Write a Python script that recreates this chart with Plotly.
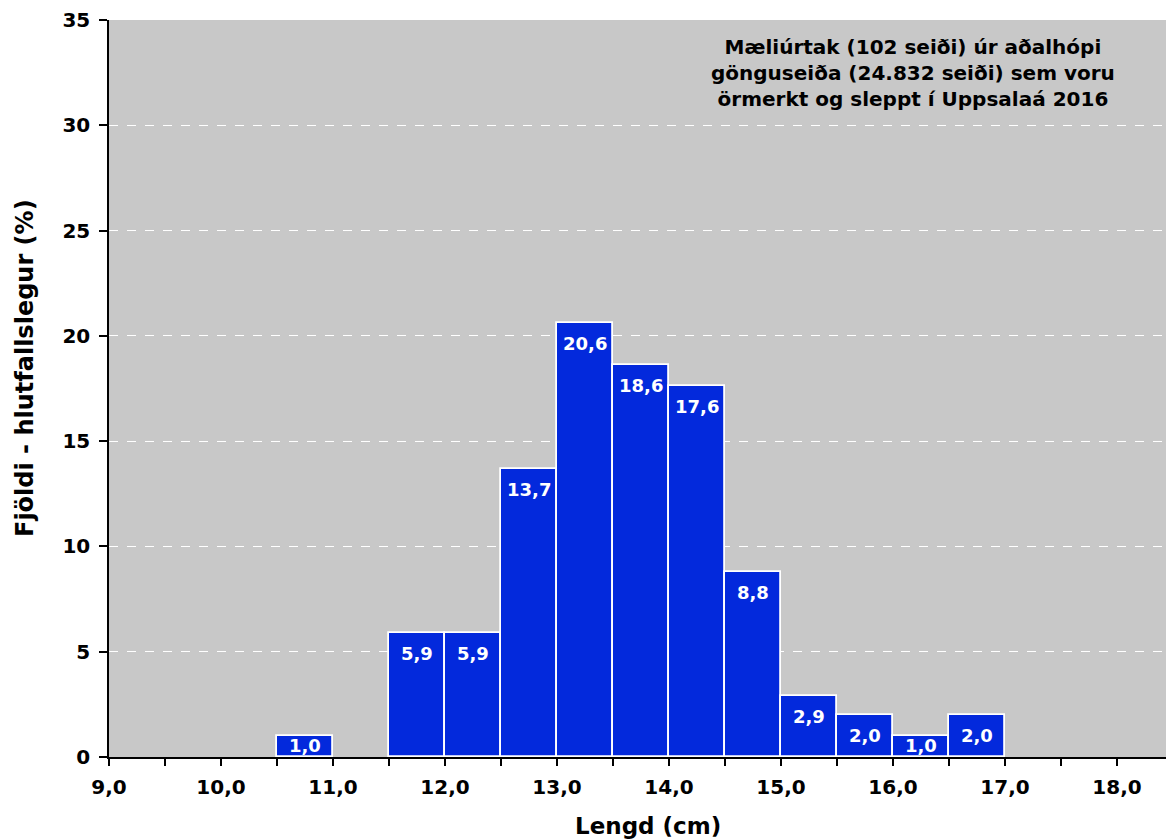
import plotly.graph_objects as go

# Bin lower edges (cm) and percentages
bin_start = [10.5, 11.5, 12.0, 12.5, 13.0, 13.5, 14.0, 14.5, 15.0, 15.5, 16.0, 16.5]
percent = [1.0, 5.9, 5.9, 13.7, 20.6, 18.6, 17.6, 8.8, 2.9, 2.0, 1.0, 2.0]
bin_width = 0.5

x_tick_vals = [9.0, 10.0, 11.0, 12.0, 13.0, 14.0, 15.0, 16.0, 17.0, 18.0]
x_tick_text = ["9,0", "10,0", "11,0", "12,0", "13,0", "14,0", "15,0", "16,0", "17,0", "18,0"]
y_tick_vals = [0, 5, 10, 15, 20, 25, 30, 35]

FONT = "DejaVu Sans"
labels = [f"{v:.1f}".replace(".", ",") for v in percent]

fig = go.Figure()
fig.add_trace(go.Bar(
    x=bin_start, y=percent, width=bin_width, offset=0,
    marker=dict(color="#0329DC", line=dict(color="white", width=1.8)),
    hoverinfo="skip",
))

# value labels inside bar tops (short bars: label sits on the base)
annotations = []
for s, v, t in zip(bin_start, percent, labels):
    short = v < 1.5
    annotations.append(dict(
        x=s + bin_width / 2, y=0 if short else v, xref="x", yref="y",
        text=t, showarrow=False, xanchor="center",
        yanchor="bottom" if short else "top",
        yshift=-1 if short else -8,
        font=dict(family=FONT, size=18, color="white", weight="bold"),
    ))

annotations.append(dict(
    xref="paper", yref="paper", x=0.761, y=0.928, xanchor="center", yanchor="middle",
    text="Mæliúrtak (102 seiði) úr aðalhópi<br>gönguseiða (24.832 seiði) sem voru<br>örmerkt og sleppt í Uppsalaá 2016",
    showarrow=False, align="center",
    font=dict(family=FONT, size=20, weight="bold", color="black"),
))

# axis titles
annotations.append(dict(
    xref="paper", yref="paper", x=(648 - 109) / 1057, y=-(826 - 757) / 737,
    xanchor="center", yanchor="middle", showarrow=False,
    text="Lengd (cm)", font=dict(family=FONT, size=23, weight="bold", color="black"),
))
annotations.append(dict(
    xref="paper", yref="paper", x=-(109 - 25) / 1057, y=(757 - 368) / 737,
    xanchor="center", yanchor="middle", showarrow=False, textangle=-90,
    text="Fjöldi - hlutfallslegur (%)", font=dict(family=FONT, size=24, weight="bold", color="black"),
))

# tick positions every 0.5, labels on whole numbers
all_ticks = [9.0 + 0.5 * i for i in range(19)]
all_text = [x_tick_text[x_tick_vals.index(t)] if t in x_tick_vals else "" for t in all_ticks]

fig.update_layout(
    width=1166, height=839,
    margin=dict(l=109, r=0, t=20, b=82),
    paper_bgcolor="white", plot_bgcolor="#C8C8C8",
    showlegend=False, bargap=0,
    font=dict(family=FONT, color="black"),
    xaxis=dict(
        range=[9.0, 9.0 + 1057 / 112], tickmode="array",
        tickvals=all_ticks, ticktext=all_text,
        ticks="outside", ticklen=7, tickwidth=1.5, tickcolor="black",
        showline=True, linecolor="black", linewidth=1.5,
        showgrid=False, zeroline=False, ticklabelstandoff=4,
        tickfont=dict(family=FONT, size=20, weight="bold"),
    ),
    yaxis=dict(
        range=[0, 35], tickmode="array", tickvals=y_tick_vals,
        ticks="outside", ticklen=8, tickwidth=1.5, tickcolor="black",
        showline=True, linecolor="black", linewidth=1.5,
        showgrid=True, gridcolor="white", griddash="dash", gridwidth=1,
        zeroline=False, ticklabelstandoff=5,
        tickfont=dict(family=FONT, size=20, weight="bold"),
    ),
    annotations=annotations,
)

fig.write_html("out.html")
